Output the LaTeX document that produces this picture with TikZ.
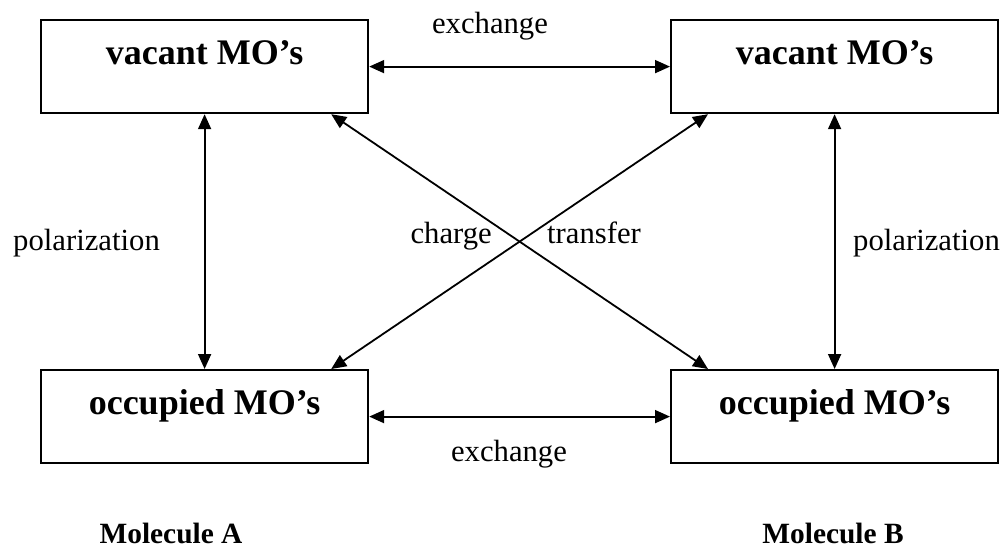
\documentclass[tikz,border=0pt]{standalone}
\usepackage{fontspec}
\setmainfont{Liberation Serif}
\usetikzlibrary{arrows.meta}
\begin{document}
\begin{tikzpicture}[x=1pt,y=-1pt,
  box/.style={draw,line width=2.2pt,inner sep=0pt,minimum width=327pt,
    text height=44pt,text depth=49pt,anchor=north west,
    font=\bfseries\fontsize{36}{40}\selectfont},
  lbl/.style={inner sep=0pt,font=\fontsize{30.7}{34}\selectfont},
  mol/.style={inner sep=0pt,font=\bfseries\fontsize{29.4}{32}\selectfont},
  arr/.style={line width=1.8pt,{Triangle[length=15pt,width=13pt]}-{Triangle[length=15pt,width=13pt]}}]
\useasboundingbox (0,0) rectangle (1004,550);
\node[box] (tl) at (40,19) {vacant MO’s};
\node[box] (tr) at (670,19) {vacant MO’s};
\node[box] (bl) at (40,369) {occupied MO’s};
\node[box] (br) at (670,369) {occupied MO’s};
\draw[arr] (tl.east) -- (tr.west);
\draw[arr] (bl.east) -- (br.west);
\draw[arr] (tl.south) -- (bl.north);
\draw[arr] (tr.south) -- (br.north);
\draw[arr] ([xshift=-38pt]tl.south east) -- ([xshift=38pt]br.north west);
\draw[arr] ([xshift=38pt]tr.south west) -- ([xshift=-38pt]bl.north east);
\node[lbl,anchor=base] (ex1) at (490,33) {exchange};
\node[lbl,anchor=base] (ex2) at (509,461) {exchange};
\node[lbl,anchor=base west] (pol1) at (13,250) {polarization};
\node[lbl,anchor=base west] (pol2) at (853,250) {polarization};
\node[lbl,anchor=base east] (ch) at (492,243) {charge};
\node[lbl,anchor=base west] (trf) at (547,243) {transfer};
\node[mol,anchor=base] (ma) at (171,543) {Molecule A};
\node[mol,anchor=base] (mb) at (833,543) {Molecule B};
\end{tikzpicture}
\end{document}
